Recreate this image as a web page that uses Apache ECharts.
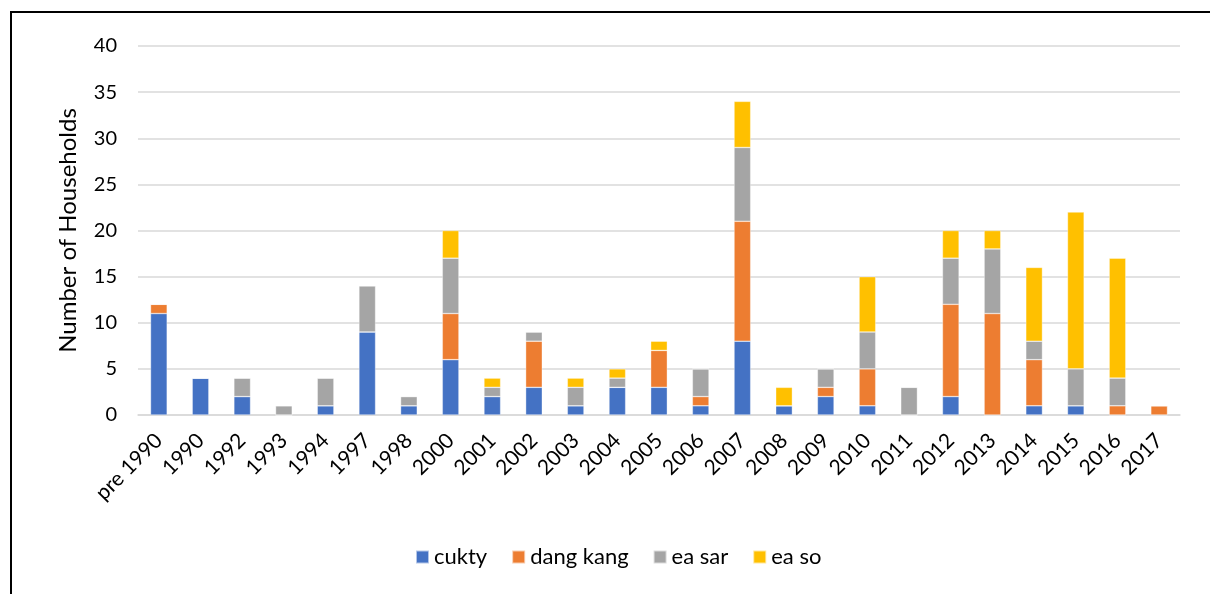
<!DOCTYPE html>
<html>
<head>
<meta charset="utf-8">
<script src="https://cdn.jsdelivr.net/npm/echarts@6/dist/echarts.min.js"></script>
<style>
  html, body { margin: 0; padding: 0; background: #fff; }
  #chart { width: 1210px; height: 594px; }
</style>
</head>
<body>
<div id="chart"></div>
<script>
// Households by year of settlement, split by village
const years = ['pre 1990', '1990', '1992', '1993', '1994', '1997', '1998', '2000', '2001', '2002',
  '2003', '2004', '2005', '2006', '2007', '2008', '2009', '2010', '2011', '2012',
  '2013', '2014', '2015', '2016', '2017'];
const cukty    = [11, 4, 2, 0, 1, 9, 1, 6, 2, 3, 1, 3, 3, 1, 8, 1, 2, 1, 0, 2, 0, 1, 1, 0, 0];
const dangKang = [1, 0, 0, 0, 0, 0, 0, 5, 0, 5, 0, 0, 4, 1, 13, 0, 1, 4, 0, 10, 11, 5, 0, 1, 1];
const eaSar    = [0, 0, 2, 1, 3, 5, 1, 6, 1, 1, 2, 1, 0, 3, 8, 0, 2, 4, 3, 5, 7, 2, 4, 3, 0];
const eaSo     = [0, 0, 0, 0, 0, 0, 0, 3, 1, 0, 1, 1, 1, 0, 5, 2, 0, 6, 0, 3, 2, 8, 17, 13, 0];
const yTicks = { min: 0, max: 40, step: 5 };

const font = 'Lato, "Open Sans", sans-serif';
const seriesDefs = [
  { name: 'cukty', data: cukty, color: '#4472C4' },
  { name: 'dang kang', data: dangKang, color: '#ED7D31' },
  { name: 'ea sar', data: eaSar, color: '#A5A5A5' },
  { name: 'ea so', data: eaSo, color: '#FFC000' }
];

const chart = echarts.init(document.getElementById('chart'), null, { renderer: 'canvas' });
chart.setOption({
  backgroundColor: '#fff',
  animation: false,
  // frame: top and left edges
  graphic: [{
    type: 'polyline',
    shape: { points: [[11, 600], [11, 12], [1212, 12]] },
    style: { fill: 'none', stroke: '#000', lineWidth: 2 },
    silent: true
  }],
  grid: { left: 138, right: 30, top: 46, bottom: 179 },
  legend: {
    bottom: 21,
    left: 410,
    itemWidth: 13,
    itemHeight: 13,
    itemGap: 24,
    icon: 'rect',
    textStyle: { fontFamily: font, fontSize: 22, color: '#000' },
    data: seriesDefs.map(s => s.name)
  },
  xAxis: {
    type: 'category',
    data: years,
    axisLine: { lineStyle: { color: '#d9d9d9', width: 1.5 } },
    axisTick: { show: false },
    axisLabel: { rotate: 45, interval: 0, fontFamily: font, fontSize: 21, color: '#000', margin: 22 }
  },
  yAxis: {
    type: 'value',
    min: yTicks.min,
    max: yTicks.max,
    interval: yTicks.step,
    name: 'Number of Households',
    nameLocation: 'middle',
    nameGap: 58,
    nameTextStyle: { fontFamily: font, fontSize: 24, color: '#000' },
    axisLine: { show: false },
    axisTick: { show: false },
    axisLabel: { fontFamily: font, fontSize: 20, color: '#000', margin: 21 },
    splitLine: { lineStyle: { color: '#d9d9d9', width: 1.5 } }
  },
  series: seriesDefs.map(s => ({
    name: s.name,
    type: 'bar',
    stack: 'total',
    barWidth: '40%',
    data: s.data,
    itemStyle: { color: s.color, borderColor: 'rgba(255,255,255,0.6)', borderWidth: 0.6 }
  }))
});
</script>
</body>
</html>
